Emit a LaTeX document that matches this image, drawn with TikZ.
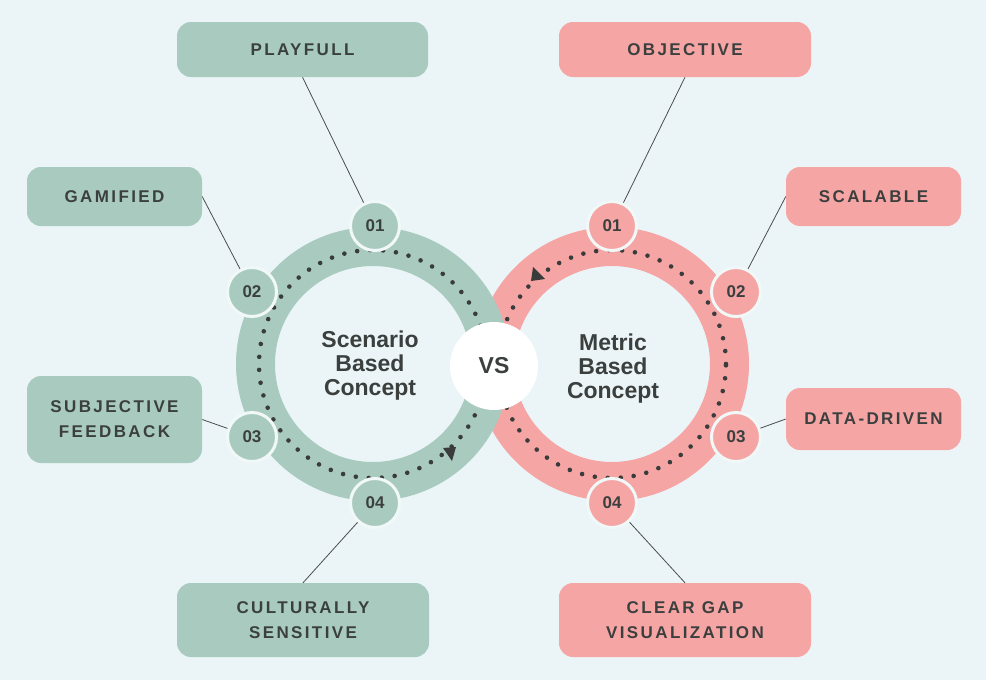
\documentclass[tikz,border=0pt]{standalone}
\usepackage{fontspec}
\setmainfont{Liberation Sans}
\newfontfamily\lblfont{Liberation Sans}[LetterSpace=14]
\definecolor{bg}{HTML}{EBF5F7}
\definecolor{grn}{HTML}{A9CBBF}
\definecolor{pnk}{HTML}{F6A5A5}
\definecolor{txt}{HTML}{3B403E}
\definecolor{lin}{HTML}{4A4D4C}
\definecolor{dotc}{HTML}{3A3C3B}
\definecolor{rim}{HTML}{F1F8F8}
\pgfdeclarelayer{back}
\pgfdeclarelayer{mid}
\pgfsetlayers{back,mid,main}
\begin{document}
\begin{tikzpicture}[x=1pt,y=-1pt,
  lbl/.style={rounded corners=14pt, inner sep=0pt, text=txt,
    font=\lblfont\bfseries\fontsize{17}{25}\selectfont, align=center},
  gbox/.style={lbl, fill=grn},
  pbox/.style={lbl, fill=pnk},
  badge/.style={circle, minimum size=49pt, inner sep=0pt, draw=rim,
    line width=3pt, text=txt, font=\bfseries\fontsize{17}{17}\selectfont},
  conn/.style={draw=lin, line width=0.8pt},
  ringline/.style={line width=39pt},
  dotline/.style={draw=dotc, line width=4.6pt, line cap=round,
    dash pattern=on 0pt off 13pt},
  ctext/.style={text=txt, align=center, inner sep=0pt,
    font=\bfseries\fontsize{23}{24}\selectfont},
]
\begin{pgfonlayer}{back}
\fill[bg] (0,0) rectangle (986,680);
\end{pgfonlayer}
\useasboundingbox (0,0) rectangle (986,680);

% ring centres
\coordinate (gc) at (373,364);
\coordinate (pc) at (612,364);

\begin{pgfonlayer}{back}
\draw[ringline, pnk] (pc) circle[radius=117.5pt];
\draw[ringline, grn] (gc) circle[radius=117.5pt];
\draw[dotline] (gc) circle[radius=114pt];
\draw[dotline] (pc) circle[radius=114pt];
\fill[dotc] (443,448) -- (456,447) -- (452,461) -- cycle;
\fill[dotc] (533,267) -- (531,281) -- (545,279) -- cycle;
\end{pgfonlayer}

% boxes
\node[gbox, minimum width=251pt, minimum height=55pt] (playfull) at (302.5,49.5) {PLAYFULL};
\node[gbox, minimum width=175pt, minimum height=59pt] (gamified) at (114.5,196.5) {GAMIFIED};
\node[gbox, minimum width=175pt, minimum height=87pt] (subj) at (114.5,419.5) {SUBJECTIVE\\FEEDBACK};
\node[gbox, minimum width=252pt, minimum height=74pt] (cult) at (303,620) {CULTURALLY\\SENSITIVE};
\node[pbox, minimum width=252pt, minimum height=55pt] (objective) at (685,49.5) {OBJECTIVE};
\node[pbox, minimum width=175pt, minimum height=59pt] (scalable) at (873.5,196.5) {SCALABLE};
\node[pbox, minimum width=175pt, minimum height=62pt] (data) at (873.5,419) {DATA-DRIVEN};
\node[pbox, minimum width=252pt, minimum height=74pt] (clear) at (685,620) {CLEAR GAP\\VISUALIZATION};

% badges
\node[badge, fill=grn] (g1) at (375,226) {01};
\node[badge, fill=grn] (g2) at (252,292) {02};
\node[badge, fill=grn] (g3) at (252,437) {03};
\node[badge, fill=grn] (g4) at (375,503) {04};
\node[badge, fill=pnk] (p1) at (612,226) {01};
\node[badge, fill=pnk] (p2) at (736,292) {02};
\node[badge, fill=pnk] (p3) at (736,437) {03};
\node[badge, fill=pnk] (p4) at (612,503) {04};

% connectors
\begin{pgfonlayer}{mid}
\draw[conn] (playfull.south) -- (g1.center);
\draw[conn] (gamified.east) -- (g2.center);
\draw[conn] (subj.east) -- (g3.center);
\draw[conn] (cult.north) -- (g4.center);
\draw[conn] (objective.south) -- (p1.center);
\draw[conn] (scalable.west) -- (p2.center);
\draw[conn] (data.west) -- (p3.center);
\draw[conn] (clear.north) -- (p4.center);
\end{pgfonlayer}

% centre texts
\node[ctext] (gtext) at (370,366) {Scenario\\Based\\Concept};
\node[ctext] (ptext) at (613,369) {Metric\\Based\\Concept};
\node[circle, fill=white, minimum size=88pt, inner sep=0pt, text=txt,
  font=\bfseries\fontsize{23}{23}\selectfont] (vs) at (494,366) {VS};
\end{tikzpicture}
\end{document}
